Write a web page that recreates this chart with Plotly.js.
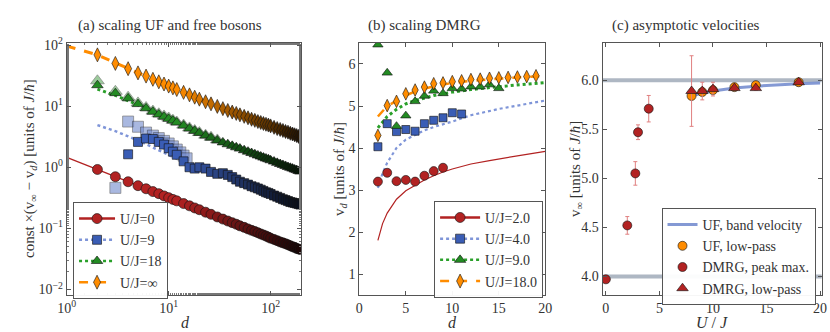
<!DOCTYPE html>
<html>
<head>
<meta charset="utf-8">
<script src="https://cdn.plot.ly/plotly-3.0.1.min.js"></script>
<style>
  html, body { margin: 0; padding: 0; background: #fff; }
  #chart { width: 830px; height: 332px; }
</style>
</head>
<body>
<div id="chart"></div>
<script>
// ---- panel (a): scaling UF and free bosons (log-log) ----
var dA = [2,3,4,5,6,7,8,9,10,11,12,14,16,18,20,23,26,30,34,38,42,46,50,55,60,65,70,75,80,85,90,95,100,108,116,124,132,140,148,156,164,172,180,188,196];
var u0 = [0.92,0.70,0.58,0.50,0.445,0.40,0.37,0.34,0.318,0.298,0.282,0.255,0.234,0.216,0.202,0.184,0.170,0.154,0.142,0.132,0.124,0.117,0.110,0.104,0.098,0.093,0.089,0.085,0.081,0.078,0.075,0.072,0.069,0.066,0.063,0.060,0.058,0.056,0.054,0.052,0.050,0.049,0.047,0.046,0.045];
var uInf = [69,50,41,35,31,27.5,25,23,21.3,19.9,18.7,16.8,15.3,14.0,13.0,11.8,10.9,9.9,9.1,8.5,8.0,7.6,7.2,6.8,6.45,6.1,5.85,5.6,5.4,5.2,5.05,4.9,4.75,4.5,4.3,4.15,4.0,3.85,3.75,3.6,3.5,3.4,3.3,3.2,3.1];
var u18 = [22,16.3,13.4,10.8,9.2,8.1,7.3,6.7,6.2,5.8,5.4,4.8,4.3,3.95,3.65,3.3,3.05,2.75,2.55,2.38,2.24,2.12,2.02,1.9,1.8,1.71,1.63,1.56,1.5,1.44,1.39,1.35,1.3,1.24,1.18,1.13,1.09,1.05,1.01,0.98,0.95,0.92,0.90,0.87,0.85];
var dA18light = [2,3,4,5,6,7,8,9,10,11,12,14,16,18,20,23,26,30];
var u18light = [26,17.5,14,11.3,9.5,8.3,7.5,6.9,6.4,5.9,5.5,4.9,4.4,4.0,3.7,3.35,3.1,2.8];
var dA9 = [4,5,6,7,8,9,10,11,12,14,16,18,20,23,26,30,34,38,42,46,50,55,60,65,70,75,80,85,90,95,100,108,116,124,132,140,148,156,164,172,180,188,196];
var u9 = [1.63,2.6,2.95,2.9,2.6,2.35,2.05,1.8,1.6,1.25,1.0,0.95,1.0,0.95,0.84,0.78,0.80,0.75,0.69,0.63,0.58,0.55,0.52,0.49,0.47,0.45,0.43,0.41,0.39,0.38,0.365,0.345,0.33,0.315,0.30,0.29,0.28,0.27,0.265,0.26,0.255,0.25,0.245];
var dA9light = [3,4,5,6,7,8,9,10,11,12,13,14,15];
var u9light = [0.46,5.6,4.6,3.7,3.3,3.0,2.7,2.45,2.2,1.95,1.75,1.55,1.4];
// guide lines
var fitD0 = [1,2,5,10,20,50,100,200];
var fit0 = [1.45,0.92,0.50,0.318,0.200,0.110,0.069,0.044];
var fitDInf = [1,2,5,10,20,50,100,200];
var fitInf = [96,69,35,21.3,13.0,7.2,4.75,3.05];
var fitD18 = [2,3,5,10,20,50,100,200];
var fit18 = [19,15,10.5,6.0,3.6,2.0,1.3,0.84];
var fitD9 = [2,3,5,10,15,20];
var fit9 = [4.9,3.9,2.75,1.6,1.15,0.92];

// ---- panel (b): scaling DMRG ----
var dB = [2,3,4,5,6,7,8,9,10,11,12,13,14,15,16,17,18,19];
var v2 = [3.20,3.41,3.21,3.24,3.20,3.34,3.45,3.53];
var v4 = [4.03,4.58,4.39,4.44,4.40,4.58,4.66,4.72,4.84,4.81];
var v9 = [6.46,5.79,4.52,4.77,5.11,5.24,5.36,5.30,5.42,5.41,5.46,5.46,5.51,5.42];
var v18 = [4.30,5.01,5.11,5.29,5.38,5.45,5.53,5.55,5.58,5.60,5.63,5.64,5.66,5.67,5.68,5.69,5.70,5.72];
var curveD2 = [2,2.5,3,4,5,6,7,8,9,10,12,14,16,18,20];
var curve2 = [1.8,2.2,2.45,2.78,2.98,3.12,3.24,3.34,3.43,3.5,3.62,3.7,3.78,3.85,3.92];
var curveD4 = [2,2.5,3,4,5,6,7,8,10,12,15,20];
var curve4 = [3.05,3.4,3.65,4.0,4.2,4.32,4.42,4.5,4.63,4.78,4.93,5.13];
var curveD9 = [2,3,4,5,6,8,10,12,15,20];
var curve9 = [4.48,4.75,4.92,5.05,5.13,5.25,5.33,5.39,5.46,5.56];
var curveD18 = [2,3,4,5,6,8,10,12,15,20];
var curve18 = [4.75,5.0,5.12,5.25,5.35,5.47,5.55,5.6,5.65,5.72];

// ---- panel (c): asymptotic velocities ----
var bandU = [8,9,10,12,14,16,18,20];
var bandV = [5.84,5.87,5.89,5.92,5.94,5.955,5.965,5.972];
var ufU = [8,9,10,12,14,18];
var ufV = [5.84,5.88,5.90,5.93,5.95,5.98];
var ufErr = [0.02,0.02,0.02,0.01,0.01,0.01];
var peakU = [0,2,2.75,3,4];
var peakV = [3.97,4.52,5.05,5.47,5.71];
var peakErr = [0.0,0.09,0.12,0.075,0.135];
var lowU = [8,9,10,12,14,18];
var lowV = [5.89,5.89,5.91,5.92,5.92,5.98];
var lowErr = [0.36,0.09,0.07,0.02,0.02,0.01];
var limits = [4.0, 6.0];

var RED = '#b22222', BLUE = '#3a5db5', GREEN = '#238b23', ORANGE = '#ff8c00';
var EDGE = 'rgba(20,20,20,0.9)';
var FONT = "'Liberation Serif', 'DejaVu Serif', serif";

// darken dense markers toward large d, like overlapping outlines do
function shade(hex, ds) {
  var r = parseInt(hex.slice(1, 3), 16), g = parseInt(hex.slice(3, 5), 16), b = parseInt(hex.slice(5, 7), 16);
  return ds.map(function (d) {
    var f = Math.max(0, Math.min(1, Math.log(d / 12) / Math.log(190 / 12))) * 0.85;
    return 'rgb(' + Math.round(r * (1 - f)) + ',' + Math.round(g * (1 - f)) + ',' + Math.round(b * (1 - f)) + ')';
  });
}

function mk(color, symbol, size, opacity) {
  return {color: color, symbol: symbol, size: size, opacity: opacity || 1,
          line: {color: EDGE, width: 0.7}};
}
function pts(x, y, ax, color, symbol, size, opacity) {
  return {x: x, y: y, xaxis: ax[0], yaxis: ax[1], mode: 'markers', type: 'scatter',
          marker: mk(color, symbol, size, opacity), showlegend: false, hoverinfo: 'skip'};
}
function guide(x, y, ax, color, dash, width) {
  return {x: x, y: y, xaxis: ax[0], yaxis: ax[1], mode: 'lines', type: 'scatter',
          line: {color: color, dash: dash, width: width}, showlegend: false, hoverinfo: 'skip'};
}
function key(name, color, symbol, dash, legend, lineColor, size, ax) {
  return {x: [null], y: [null], xaxis: ax[0], yaxis: ax[1], mode: 'lines+markers', type: 'scatter',
          name: name, legend: legend, marker: mk(color, symbol, size),
          line: {color: lineColor || color, dash: dash, width: 2.5}};
}

var A = ['x', 'y'], B = ['x2', 'y2'], C = ['x3', 'y3'];
var traces = [
  guide(fitD0, fit0, A, RED, 'solid', 1.3),
  guide(fitD9, fit9, A, '#7f95d8', 'dot', 2.5),
  guide(fitD18, fit18, A, '#2aa02a', 'dot', 3),
  guide(fitDInf, fitInf, A, ORANGE, 'dash', 3),
  pts(dA9light, u9light, A, '#7189cc', 'square', 11, 0.6),
  pts(dA18light, u18light, A, '#4ca04c', 'triangle-up', 12, 0.55),
  pts(dA, u0, A, shade(RED, dA), 'circle', 10),
  pts(dA9, u9, A, shade(BLUE, dA9), 'square', 9),
  pts(dA, u18, A, shade(GREEN, dA), 'triangle-up', 10),
  pts(dA, uInf, A, shade(ORANGE, dA), 'diamond-tall', 10),
  key('U/J=0', RED, 'circle', 'solid', 'legend', RED, 10, A),
  key('U/J=9', BLUE, 'square', 'dot', 'legend', '#7f95d8', 9, A),
  key('U/J=18', GREEN, 'triangle-up', 'dot', 'legend', '#2aa02a', 10, A),
  key('U/J=∞', ORANGE, 'diamond-tall', 'dash', 'legend', ORANGE, 10, A),

  guide(curveD2, curve2, B, RED, 'solid', 1.2),
  guide(curveD4, curve4, B, '#7f95d8', 'dot', 2.2),
  guide(curveD9, curve9, B, '#2aa02a', 'dot', 3),
  guide(curveD18, curve18, B, ORANGE, 'dash', 2.5),
  pts(dB.slice(0, v2.length), v2, B, RED, 'circle', 9),
  pts(dB.slice(0, v4.length), v4, B, BLUE, 'square', 8),
  pts(dB.slice(0, v9.length), v9, B, GREEN, 'triangle-up', 9),
  pts(dB.slice(0, v18.length), v18, B, ORANGE, 'diamond-tall', 9),
  key('U/J=2.0', RED, 'circle', 'solid', 'legend2', RED, 10, B),
  key('U/J=4.0', BLUE, 'square', 'dot', 'legend2', '#7f95d8', 9, B),
  key('U/J=9.0', GREEN, 'triangle-up', 'dot', 'legend2', '#2aa02a', 10, B),
  key('U/J=18.0', ORANGE, 'diamond-tall', 'dash', 'legend2', ORANGE, 10, B),

  {x: bandU, y: bandV, xaxis: 'x3', yaxis: 'y3', mode: 'lines', type: 'scatter',
   name: 'UF, band velocity', legend: 'legend3',
   line: {color: 'rgba(110,135,205,0.85)', width: 3}, hoverinfo: 'skip'},
  {x: ufU, y: ufV, xaxis: 'x3', yaxis: 'y3', mode: 'markers', type: 'scatter',
   name: 'UF, low-pass', legend: 'legend3', marker: mk(ORANGE, 'circle', 9),
   error_y: {type: 'data', array: ufErr, color: '#f2a650', thickness: 1, width: 2}, hoverinfo: 'skip'},
  {x: peakU, y: peakV, xaxis: 'x3', yaxis: 'y3', mode: 'markers', type: 'scatter',
   name: 'DMRG, peak max.', legend: 'legend3', marker: mk(RED, 'circle', 9),
   error_y: {type: 'data', array: peakErr, color: '#e08080', thickness: 1, width: 2}, hoverinfo: 'skip'},
  {x: lowU, y: lowV, xaxis: 'x3', yaxis: 'y3', mode: 'markers', type: 'scatter',
   name: 'DMRG, low-pass', legend: 'legend3', marker: mk(RED, 'triangle-up', 10),
   error_y: {type: 'data', array: lowErr, color: '#e08080', thickness: 1, width: 2}, hoverinfo: 'skip'}
];

function axisBase(extra) {
  var a = {showline: true, linecolor: '#555', linewidth: 1, mirror: 'allticks',
           ticks: 'inside', ticklen: 4, tickcolor: '#555', showgrid: false, zeroline: false,
           tickfont: {family: FONT, size: 14, color: '#333'}};
  for (var k in extra) a[k] = extra[k];
  return a;
}
var logMinor = {ticks: 'inside', ticklen: 2, tickcolor: '#777', showgrid: false};

var shapes = limits.map(function (v) {
  return {type: 'line', xref: 'x3 domain', yref: 'y3', x0: 0, x1: 1, y0: v, y1: v,
          line: {color: 'rgba(120,135,155,0.6)', width: 4}, layer: 'below'};
});

function legendBox(x, y, w) {
  return {x: x, y: y, xanchor: 'left', yanchor: 'top', xref: 'paper', yref: 'paper',
          bgcolor: 'rgba(255,255,255,0.95)', bordercolor: '#555', borderwidth: 1,
          font: {family: FONT, size: 14, color: '#333'}, tracegroupgap: 0, itemwidth: w};
}

function note(text, x, y, size, angle) {
  return {text: text, x: x / 830, y: 1 - y / 332, xref: 'paper', yref: 'paper',
          showarrow: false, xanchor: 'center', yanchor: 'middle', textangle: angle || 0,
          font: {family: FONT, size: size, color: '#333'}};
}

var layout = {
  width: 830, height: 332,
  margin: {l: 0, r: 0, t: 0, b: 0},
  paper_bgcolor: '#fff', plot_bgcolor: '#fff',
  font: {family: FONT, color: '#333'},
  showlegend: true,
  xaxis: axisBase({type: 'log', range: [0, 2.295], domain: [0.0804, 0.3623], anchor: 'y',
    tickmode: 'array', tickvals: [1, 10, 100],
    ticktext: ['10<sup>0</sup>', '10<sup>1</sup>', '10<sup>2</sup>'], minor: logMinor}),
  yaxis: axisBase({type: 'log', range: [-2.09, 2.033], domain: [0.1114, 0.8705], anchor: 'x',
    tickmode: 'array', tickvals: [0.01, 0.1, 1, 10, 100],
    ticktext: ['10<sup>−2</sup>', '10<sup>−1</sup>', '10<sup>0</sup>', '10<sup>1</sup>', '10<sup>2</sup>'],
    minor: logMinor}),
  xaxis2: axisBase({range: [0, 20], domain: [0.4329, 0.657], anchor: 'y2', dtick: 5, tick0: 0}),
  yaxis2: axisBase({range: [0.5, 6.5], domain: [0.1114, 0.8705], anchor: 'x2', dtick: 1, tick0: 0}),
  xaxis3: axisBase({range: [-0.3, 20.15], domain: [0.7261, 0.99], anchor: 'y3', dtick: 5, tick0: 0}),
  yaxis3: axisBase({range: [3.81, 6.38], domain: [0.1114, 0.8705], anchor: 'x3', dtick: 0.5, tick0: 4,
    tickformat: '.1f'}),
  legend: legendBox(0.088, 0.3916, 36),
  legend2: legendBox(0.523, 0.395, 40),
  legend3: legendBox(0.797, 0.3735, 30),
  shapes: shapes,
  annotations: [
    note('(a) scaling UF and free bosons', 170, 25, 15),
    note('(b) scaling DMRG', 424, 25, 15),
    note('(c) asymptotic velocities', 686, 25, 15),
    note('<i>d</i>', 185, 322, 16),
    note('<i>d</i>', 452, 322, 16),
    note('<i>U</i> / <i>J</i>', 712, 322, 16),
    note('const ×(v<sub>∞</sub> − v<sub><i>d</i></sub>) [units of <i>J</i>/<i>ħ</i>]', 30, 169, 15, -90),
    note('v<sub><i>d</i></sub> [units of <i>J</i>/<i>ħ</i>]', 340, 169, 15, -90),
    note('v<sub>∞</sub> [units of <i>J</i>/<i>ħ</i>]', 576, 169, 15, -90)
  ]
};

Plotly.newPlot('chart', traces, layout, {staticPlot: true, displayModeBar: false});
</script>
</body>
</html>
